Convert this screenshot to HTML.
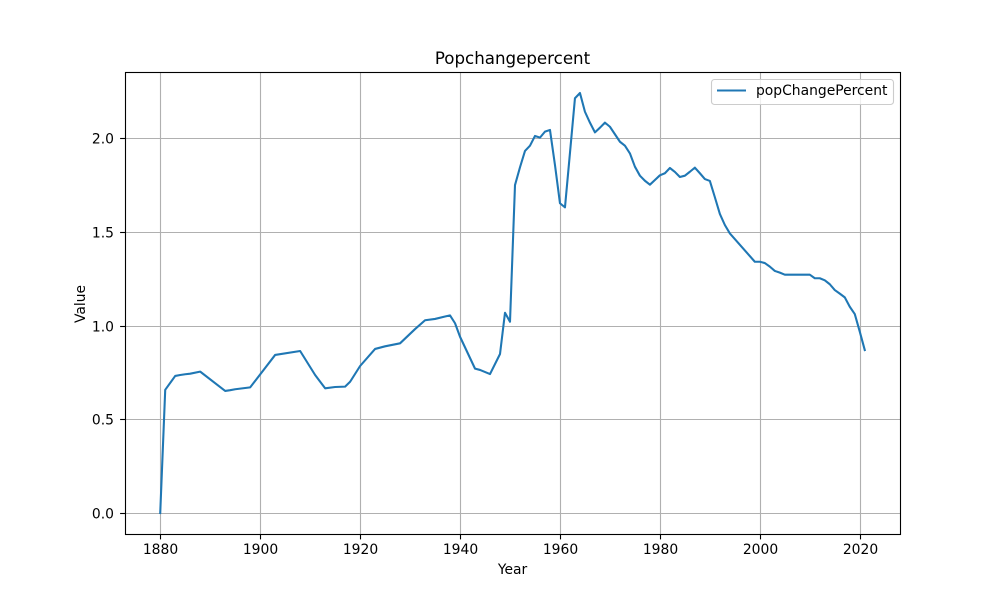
<!DOCTYPE html>
<html lang="en">
<head>
<meta charset="utf-8">
<title>Popchangepercent</title>
<style>
html,body{margin:0;padding:0;background:#fff;}
svg{display:block;}
text{font-family:"DejaVu Sans",sans-serif;fill:#000;}
</style>
</head>
<body>
<svg id="chart" xmlns="http://www.w3.org/2000/svg" width="1000" height="600" viewBox="0 0 1000 600">
  <rect x="0" y="0" width="1000" height="600" fill="#fff"/>
  <g id="grid"></g>
  <g id="series"></g>
  <rect x="125.5" y="72.5" width="775" height="462" fill="none" stroke="#000" stroke-width="1.11"/>
  <g id="ticks"></g>
  <text x="512.5" y="64" font-size="16.67" text-anchor="middle">Popchangepercent</text>
  <text x="512.5" y="574" font-size="13.89" text-anchor="middle">Year</text>
  <text x="0" y="0" font-size="13.89" text-anchor="middle" transform="translate(85 304) rotate(-90)">Value</text>
  <g>
    <rect x="711.5" y="79.5" width="182" height="25" rx="3" ry="3" fill="#fff" fill-opacity="0.8" stroke="#ccc" stroke-width="1.11"/>
    <line x1="717" y1="90.5" x2="746" y2="90.5" stroke="#1f77b4" stroke-width="2.08"/>
    <text x="756" y="95" font-size="13.89">popChangePercent</text>
  </g>
</svg>
<script>
var years = [1880,1881,1883,1884,1885,1886,1888,1893,1894,1895,1898,1903,1908,1911,1913,1915,1917,1918,1920,1923,1925,1928,1931,1933,1935,1937,1938,1939,1940,1943,1944,1946,1948,1949,1950,1951,1952,1953,1954,1955,1956,1957,1958,1959,1960,1961,1962,1963,1964,1965,1966,1967,1968,1969,1970,1971,1972,1973,1974,1975,1976,1977,1978,1979,1980,1981,1982,1983,1984,1985,1986,1987,1988,1989,1990,1991,1992,1993,1994,1999,2000,2001,2002,2003,2004,2005,2010,2011,2012,2013,2014,2015,2016,2017,2018,2019,2020,2021];
var popChangePercent = [0,0.657,0.731,0.736,0.74,0.743,0.754,0.651,0.655,0.66,0.67,0.843,0.864,0.736,0.665,0.672,0.674,0.7,0.784,0.875,0.889,0.905,0.981,1.028,1.035,1.048,1.054,1.012,0.94,0.77,0.763,0.741,0.848,1.068,1.02,1.749,1.844,1.931,1.959,2.011,2.002,2.034,2.043,1.856,1.652,1.63,1.92,2.212,2.24,2.14,2.082,2.03,2.055,2.082,2.06,2.02,1.98,1.959,1.918,1.847,1.799,1.772,1.751,1.776,1.801,1.812,1.84,1.819,1.792,1.799,1.82,1.842,1.812,1.781,1.771,1.684,1.595,1.536,1.491,1.34,1.34,1.333,1.314,1.291,1.282,1.271,1.271,1.252,1.252,1.241,1.22,1.189,1.17,1.15,1.1,1.061,0.967,0.869];
var xTicks = [1880,1900,1920,1940,1960,1980,2000,2020];
var yTicks = [0,0.5,1,1.5,2];
var yTickLabels = ['0.0','0.5','1.0','1.5','2.0'];

var SVG_NS = 'http://www.w3.org/2000/svg';
var plot = {left:125, right:900, top:72, bottom:534};

function extent(values){
  return [Math.min.apply(null, values), Math.max.apply(null, values)];
}
var xExt = extent(years);
var yExt = extent(popChangePercent);
var xPad = (xExt[1] - xExt[0]) * 0.05;
var yPad = (yExt[1] - yExt[0]) * 0.05;

function xScale(v){
  return plot.left + (v - (xExt[0] - xPad)) / (xExt[1] - xExt[0] + 2 * xPad) * (plot.right - plot.left);
}
function yScale(v){
  return plot.bottom - (v - (yExt[0] - yPad)) / (yExt[1] - yExt[0] + 2 * yPad) * (plot.bottom - plot.top);
}
function snap(p){
  return Math.round(p) + 0.5;
}
function makeLine(x1, y1, x2, y2, color){
  var l = document.createElementNS(SVG_NS, 'line');
  l.setAttribute('x1', x1);
  l.setAttribute('y1', y1);
  l.setAttribute('x2', x2);
  l.setAttribute('y2', y2);
  l.setAttribute('stroke', color);
  l.setAttribute('stroke-width', '1.11');
  return l;
}

var gridLayer = document.getElementById('grid');
var tickLayer = document.getElementById('ticks');

xTicks.forEach(function(t){
  var px = snap(xScale(t));
  var g = makeLine(px, plot.top, px, plot.bottom, '#b0b0b0');
  
  
  gridLayer.appendChild(g);
  var m = makeLine(px, plot.bottom, px, plot.bottom + 5.4, '#000');
  
  
  tickLayer.appendChild(m);
  var label = document.createElementNS(SVG_NS, 'text');
  
  
  label.setAttribute('x', px);
  label.setAttribute('y', 554);
  label.setAttribute('font-size', '13.89');
  label.setAttribute('text-anchor', 'middle');
  label.textContent = String(t);
  tickLayer.appendChild(label);
});

yTicks.forEach(function(t, i){
  var py = snap(yScale(t));
  var g = makeLine(plot.left, py, plot.right, py, '#b0b0b0');
  
  
  gridLayer.appendChild(g);
  var m = makeLine(plot.left - 4.9, py, plot.left, py, '#000');
  
  
  tickLayer.appendChild(m);
  var label = document.createElementNS(SVG_NS, 'text');
  
  
  label.setAttribute('x', 114);
  label.setAttribute('y', py + 4.8);
  label.setAttribute('font-size', '13.89');
  label.setAttribute('text-anchor', 'end');
  label.textContent = yTickLabels[i];
  tickLayer.appendChild(label);
});

var pts = years.map(function(yr, i){
  return xScale(yr).toFixed(2) + ',' + yScale(popChangePercent[i]).toFixed(2);
}).join(' ');
var seriesLine = document.createElementNS(SVG_NS, 'polyline');


seriesLine.setAttribute('points', pts);
seriesLine.setAttribute('fill', 'none');
seriesLine.setAttribute('stroke', '#1f77b4');
seriesLine.setAttribute('stroke-width', '2.08');
seriesLine.setAttribute('stroke-linejoin', 'round');
seriesLine.setAttribute('stroke-linecap', 'square');
document.getElementById('series').appendChild(seriesLine);
</script>
</body>
</html>
